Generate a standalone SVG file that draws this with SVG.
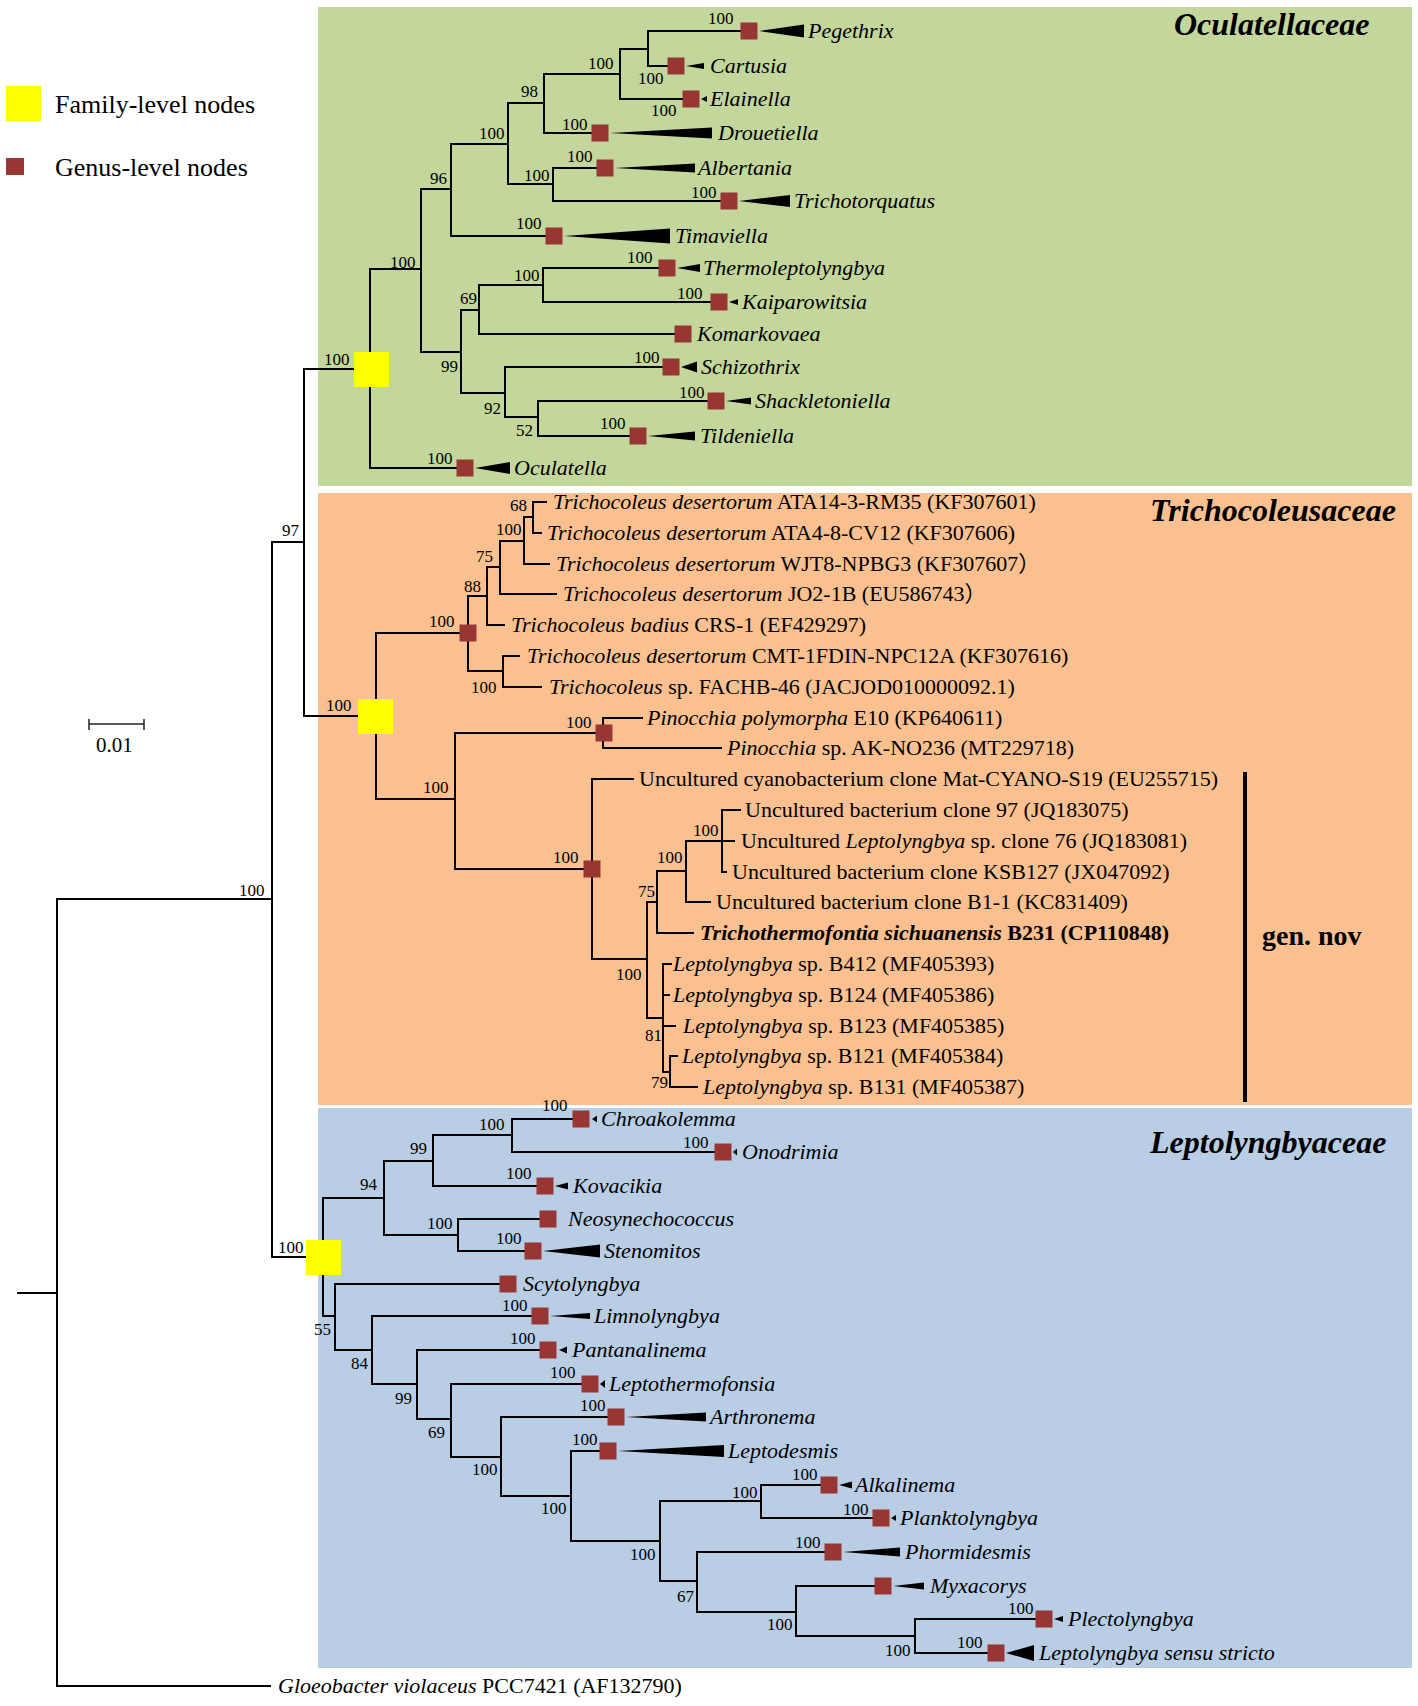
<svg xmlns="http://www.w3.org/2000/svg" width="1418" height="1706" viewBox="0 0 1418 1706">
<style>
.tx{font-family:"Liberation Serif","Times New Roman","Noto Sans CJK SC",serif;font-size:22px;fill:#000}
.it{font-style:italic}
.bs{font-family:"Liberation Serif","Times New Roman",serif;font-size:17px;fill:#000}
.sq{fill:#983634}
.fam{fill:#ffff00}
.tri{fill:#000}
.br{fill:none;stroke:#000;stroke-width:2;stroke-linecap:square}
.title{font-family:"Liberation Serif","Times New Roman",serif;font-size:32px;font-weight:bold;font-style:italic;fill:#000}
.leg{font-family:"Liberation Serif","Times New Roman",serif;font-size:26px;fill:#000}
</style>
<rect width="1418" height="1706" fill="#fff"/>
<g id="panels">
<rect x="318" y="7" width="1094" height="479" fill="#C3D69B"/>
<rect x="318" y="493" width="1094" height="612" fill="#FAC090"/>
<rect x="318" y="1108" width="1094" height="560" fill="#B9CDE5"/>
<text class="title" x="1174" y="35">Oculatellaceae</text>
<text class="title" x="1150" y="521">Trichocoleusaceae</text>
<text class="title" x="1150" y="1153">Leptolyngbyaceae</text>
</g>
<g id="legend">
<rect class="fam" x="6" y="86" width="35" height="35"/>
<text class="leg" x="55" y="113">Family-level nodes</text>
<rect class="sq" x="6" y="158" width="18" height="17"/>
<text class="leg" x="55" y="176">Genus-level nodes</text>
</g>
<g id="scale">
<path d="M89 724H144M89 719V730M144 719V730" fill="none" stroke="#222" stroke-width="1.5"/>
<text class="tx" x="96" y="752" style="font-size:21px">0.01</text>
</g>
<g id="connectors">
<path class="br" d="M18 1293H57M57 899V1686M57 899H272M57 1686H270M272 542V1257M272 542H304M272 1257H323M304 369V716M304 369H370M304 716H376
M370 269V468M370 269H421M370 468H465M421 189V352M421 189H451M421 352H461M451 144V236M451 144H508M451 236H554M508 103V184M508 103H544M508 184H553M544 74V133M544 74H620M544 133H600M620 49V99M620 49H648M620 99H691M648 31V66M648 31H749M648 66H676M553 168V201M553 168H605M553 201H729M461 310V393M461 310H479M461 393H505M479 285V334M479 285H543M479 334H683M543 268V302M543 268H667M543 302H719M505 367V417M505 367H671M505 417H538M538 401V436M538 401H716M538 436H638
M376 633V799M376 633H468M468 596V671M468 596H487M468 671H503M487 567V625M487 567H500M487 625H504M500 541V594M500 541H524M500 594H556M524 517V564M524 517H533M524 564H549M533 502V533M533 502H546M533 533H541M503 656V687M503 656H519M503 687H541M376 799H455M455 733V869M455 733H604M603 718V748M603 718H642M603 748H721M455 869H592M592 779V959M592 779H633M592 959H647M647 902V1018M647 902H657M657 871V933M657 871H686M686 841V902M686 841H722M722 810V872M722 810H740M722 841H734M722 872H726M686 902H710M657 933H693M647 1018H663M663 964V1072M663 964H671M663 995H669M663 1026H675M663 1072H670M670 1056V1087M670 1056H677M670 1087H697
M323 1198V1316M323 1198H384M384 1161V1235M384 1161H433M433 1135V1186M433 1135H512M512 1119V1152M512 1119H581M512 1152H723M433 1186H545M384 1235H458M458 1219V1251M458 1219H548M458 1251H533M323 1316H335M335 1284V1350M335 1284H508M335 1350H372M372 1316V1384M372 1316H540M372 1384H417M417 1350V1419M417 1350H548M417 1419H451M451 1384V1457M451 1384H590M451 1457H501M501 1417V1496M501 1417H616M501 1496H571M571 1451V1541M571 1451H608M571 1541H660M660 1501V1581M660 1501H761M660 1581H697M761 1485V1518M761 1485H829M761 1518H881M697 1552V1612M697 1552H833M697 1612H796M796 1586V1636M796 1586H883M796 1636H915M915 1619V1653M915 1619H1044M915 1653H996"/>
<rect x="1243" y="772" width="4" height="330" fill="#000"/>
<text class="tx" x="1262" y="945" style="font-size:28px;font-weight:bold">gen. nov</text>
</g>
<g id="support">
<text class="bs" x="239" y="896">100</text>
<text class="bs" x="282" y="536">97</text>
<text class="bs" x="324" y="365">100</text>
<text class="bs" x="390" y="268">100</text>
<text class="bs" x="430" y="184">96</text>
<text class="bs" x="479" y="139">100</text>
<text class="bs" x="521" y="97">98</text>
<text class="bs" x="588" y="69">100</text>
<text class="bs" x="708" y="24">100</text>
<text class="bs" x="638" y="84">100</text>
<text class="bs" x="651" y="116">100</text>
<text class="bs" x="562" y="130">100</text>
<text class="bs" x="524" y="181">100</text>
<text class="bs" x="567" y="162">100</text>
<text class="bs" x="691" y="198">100</text>
<text class="bs" x="516" y="229">100</text>
<text class="bs" x="460" y="304">69</text>
<text class="bs" x="514" y="281">100</text>
<text class="bs" x="627" y="263">100</text>
<text class="bs" x="677" y="299">100</text>
<text class="bs" x="441" y="372">99</text>
<text class="bs" x="634" y="363">100</text>
<text class="bs" x="484" y="414">92</text>
<text class="bs" x="679" y="398">100</text>
<text class="bs" x="516" y="436">52</text>
<text class="bs" x="600" y="429">100</text>
<text class="bs" x="427" y="464">100</text>
<text class="bs" x="510" y="511">68</text>
<text class="bs" x="496" y="535">100</text>
<text class="bs" x="476" y="562">75</text>
<text class="bs" x="464" y="592">88</text>
<text class="bs" x="429" y="627">100</text>
<text class="bs" x="471" y="693">100</text>
<text class="bs" x="326" y="711">100</text>
<text class="bs" x="566" y="728">100</text>
<text class="bs" x="423" y="793">100</text>
<text class="bs" x="553" y="863">100</text>
<text class="bs" x="616" y="980">100</text>
<text class="bs" x="638" y="897">75</text>
<text class="bs" x="657" y="863">100</text>
<text class="bs" x="693" y="836">100</text>
<text class="bs" x="645" y="1041">81</text>
<text class="bs" x="651" y="1088">79</text>
<text class="bs" x="278" y="1253">100</text>
<text class="bs" x="360" y="1190">94</text>
<text class="bs" x="410" y="1154">99</text>
<text class="bs" x="479" y="1130">100</text>
<text class="bs" x="542" y="1111">100</text>
<text class="bs" x="683" y="1148">100</text>
<text class="bs" x="506" y="1179">100</text>
<text class="bs" x="427" y="1229">100</text>
<text class="bs" x="496" y="1244">100</text>
<text class="bs" x="314" y="1335">55</text>
<text class="bs" x="502" y="1311">100</text>
<text class="bs" x="351" y="1369">84</text>
<text class="bs" x="510" y="1344">100</text>
<text class="bs" x="395" y="1404">99</text>
<text class="bs" x="550" y="1378">100</text>
<text class="bs" x="428" y="1438">69</text>
<text class="bs" x="580" y="1411">100</text>
<text class="bs" x="472" y="1475">100</text>
<text class="bs" x="572" y="1445">100</text>
<text class="bs" x="541" y="1514">100</text>
<text class="bs" x="630" y="1560">100</text>
<text class="bs" x="732" y="1498">100</text>
<text class="bs" x="792" y="1480">100</text>
<text class="bs" x="843" y="1515">100</text>
<text class="bs" x="677" y="1602">67</text>
<text class="bs" x="795" y="1548">100</text>
<text class="bs" x="767" y="1630">100</text>
<text class="bs" x="1008" y="1614">100</text>
<text class="bs" x="885" y="1656">100</text>
<text class="bs" x="957" y="1648">100</text>
</g>
<g id="family-nodes">
<rect id="fam-ocul" class="fam" x="354" y="352" width="35" height="35"/>
<rect id="fam-tric" class="fam" x="358" y="699" width="35" height="35"/>
<rect id="fam-lept" class="fam" x="306" y="1240" width="35" height="35"/>
</g>
<g id="oculatellaceae">
<g id="n-pegethrix"><rect class="sq" x="740.5" y="22.5" width="17" height="17"/><polygon class="tri" points="759,31 804,24.5 804,37.5"/><text class="tx it" x="808" y="38">Pegethrix</text></g>
<g id="n-cartusia"><rect class="sq" x="667.5" y="57.5" width="17" height="17"/><polygon class="tri" points="686,66 704,63 704,69"/><text class="tx it" x="710" y="73">Cartusia</text></g>
<g id="n-elainella"><rect class="sq" x="682.5" y="90.5" width="17" height="17"/><polygon class="tri" points="701,99 707,96 707,102"/><text class="tx it" x="710" y="106">Elainella</text></g>
<g id="n-drouetiella"><rect class="sq" x="591.5" y="124.5" width="17" height="17"/><polygon class="tri" points="610,133 712,127.5 712,138.5"/><text class="tx it" x="718" y="140">Drouetiella</text></g>
<g id="n-albertania"><rect class="sq" x="596.5" y="159.5" width="17" height="17"/><polygon class="tri" points="615,168 695,163.5 695,172.5"/><text class="tx it" x="698" y="175">Albertania</text></g>
<g id="n-trichotorquatus"><rect class="sq" x="720.5" y="192.5" width="17" height="17"/><polygon class="tri" points="739,201 790,195 790,207"/><text class="tx it" x="794" y="208">Trichotorquatus</text></g>
<g id="n-timaviella"><rect class="sq" x="545.5" y="227.5" width="17" height="17"/><polygon class="tri" points="564,236 670,228.5 670,243.5"/><text class="tx it" x="675" y="243">Timaviella</text></g>
<g id="n-thermoleptolyngbya"><rect class="sq" x="658.5" y="259.5" width="17" height="17"/><polygon class="tri" points="677,268 700,264 700,272"/><text class="tx it" x="703" y="275">Thermoleptolyngbya</text></g>
<g id="n-kaiparowitsia"><rect class="sq" x="710.5" y="293.5" width="17" height="17"/><polygon class="tri" points="729,302 738,299 738,305"/><text class="tx it" x="742" y="309">Kaiparowitsia</text></g>
<g id="n-komarkovaea"><rect class="sq" x="674.5" y="325.5" width="17" height="17"/><text class="tx it" x="697" y="341">Komarkovaea</text></g>
<g id="n-schizothrix"><rect class="sq" x="662.5" y="358.5" width="17" height="17"/><polygon class="tri" points="681,367 697,361.5 697,372.5"/><text class="tx it" x="701" y="374">Schizothrix</text></g>
<g id="n-shackletoniella"><rect class="sq" x="707.5" y="392.5" width="17" height="17"/><polygon class="tri" points="726,401 751,397.5 751,404.5"/><text class="tx it" x="755" y="408">Shackletoniella</text></g>
<g id="n-tildeniella"><rect class="sq" x="629.5" y="427.5" width="17" height="17"/><polygon class="tri" points="648,436 695,431.5 695,440.5"/><text class="tx it" x="700" y="443">Tildeniella</text></g>
<g id="n-oculatella"><rect class="sq" x="456.5" y="459.5" width="17" height="17"/><polygon class="tri" points="475,468 510,462 510,474"/><text class="tx it" x="514" y="475">Oculatella</text></g>
</g>
<g id="trichocoleusaceae">
<rect id="g-trichocoleus" class="sq" x="459.5" y="624.5" width="17" height="17"/>
<rect id="g-pinocchia" class="sq" x="595.5" y="724.5" width="17" height="17"/>
<rect id="g-gennov" class="sq" x="583.5" y="860.5" width="17" height="17"/>
<text id="t1" class="tx" x="553" y="509"><tspan class="it">Trichocoleus desertorum</tspan> ATA14-3-RM35 (KF307601)</text>
<text id="t2" class="tx" x="547" y="540"><tspan class="it">Trichocoleus desertorum</tspan> ATA4-8-CV12 (KF307606)</text>
<text id="t3" class="tx" x="556" y="571"><tspan class="it">Trichocoleus desertorum</tspan> WJT8-NPBG3 (KF307607）</text>
<text id="t4" class="tx" x="563" y="601"><tspan class="it">Trichocoleus desertorum</tspan> JO2-1B (EU586743）</text>
<text id="t5" class="tx" x="511" y="632"><tspan class="it">Trichocoleus badius</tspan> CRS-1 (EF429297)</text>
<text id="t6" class="tx" x="527" y="663"><tspan class="it">Trichocoleus desertorum</tspan> CMT-1FDIN-NPC12A (KF307616)</text>
<text id="t7" class="tx" x="549" y="694"><tspan class="it">Trichocoleus</tspan> sp. FACHB-46 (JACJOD010000092.1)</text>
<text id="t8" class="tx" x="647" y="725"><tspan class="it">Pinocchia polymorpha</tspan> E10 (KP640611)</text>
<text id="t9" class="tx" x="727" y="755"><tspan class="it">Pinocchia</tspan> sp. AK-NO236 (MT229718)</text>
<text id="t10" class="tx" x="639" y="786">Uncultured cyanobacterium clone Mat-CYANO-S19 (EU255715)</text>
<text id="t11" class="tx" x="745" y="817">Uncultured bacterium clone 97 (JQ183075)</text>
<text id="t12" class="tx" x="741" y="848">Uncultured <tspan class="it">Leptolyngbya</tspan> sp. clone 76 (JQ183081)</text>
<text id="t13" class="tx" x="732" y="879">Uncultured bacterium clone KSB127 (JX047092)</text>
<text id="t14" class="tx" x="716" y="909">Uncultured bacterium clone B1-1 (KC831409)</text>
<text id="t15" class="tx" x="700" y="940" style="font-weight:bold"><tspan class="it">Trichothermofontia sichuanensis</tspan> B231 (CP110848)</text>
<text id="t16" class="tx" x="673" y="971"><tspan class="it">Leptolyngbya</tspan> sp. B412 (MF405393)</text>
<text id="t17" class="tx" x="673" y="1002"><tspan class="it">Leptolyngbya</tspan> sp. B124 (MF405386)</text>
<text id="t18" class="tx" x="683" y="1033"><tspan class="it">Leptolyngbya</tspan> sp. B123 (MF405385)</text>
<text id="t19" class="tx" x="682" y="1063"><tspan class="it">Leptolyngbya</tspan> sp. B121 (MF405384)</text>
<text id="t20" class="tx" x="703" y="1094"><tspan class="it">Leptolyngbya</tspan> sp. B131 (MF405387)</text>
</g>
<g id="leptolyngbyaceae">
<g id="n-chroakolemma"><rect class="sq" x="572.5" y="1110.5" width="17" height="17"/><polygon class="tri" points="592,1119 597,1115.5 597,1122.5"/><text class="tx it" x="601" y="1126">Chroakolemma</text></g>
<g id="n-onodrimia"><rect class="sq" x="714.5" y="1143.5" width="17" height="17"/><polygon class="tri" points="733,1152 737,1148.5 737,1155.5"/><text class="tx it" x="742" y="1159">Onodrimia</text></g>
<g id="n-kovacikia"><rect class="sq" x="536.5" y="1177.5" width="17" height="17"/><polygon class="tri" points="555,1186 568,1182.5 568,1189.5"/><text class="tx it" x="573" y="1193">Kovacikia</text></g>
<g id="n-neosynechococcus"><rect class="sq" x="539.5" y="1210.5" width="17" height="17"/><text class="tx it" x="568" y="1226">Neosynechococcus</text></g>
<g id="n-stenomitos"><rect class="sq" x="524.5" y="1242.5" width="17" height="17"/><polygon class="tri" points="543,1251 600,1244.5 600,1257.5"/><text class="tx it" x="604" y="1258">Stenomitos</text></g>
<g id="n-scytolyngbya"><rect class="sq" x="499.5" y="1275.5" width="17" height="17"/><text class="tx it" x="523" y="1291">Scytolyngbya</text></g>
<g id="n-limnolyngbya"><rect class="sq" x="531.5" y="1307.5" width="17" height="17"/><polygon class="tri" points="550,1316 590,1313 590,1319"/><text class="tx it" x="594" y="1323">Limnolyngbya</text></g>
<g id="n-pantanalinema"><rect class="sq" x="539.5" y="1341.5" width="17" height="17"/><polygon class="tri" points="559,1350 567,1346.5 567,1353.5"/><text class="tx it" x="572" y="1357">Pantanalinema</text></g>
<g id="n-leptothermofonsia"><rect class="sq" x="581.5" y="1375.5" width="17" height="17"/><polygon class="tri" points="600,1384 605,1380 605,1388"/><text class="tx it" x="609" y="1391">Leptothermofonsia</text></g>
<g id="n-arthronema"><rect class="sq" x="607.5" y="1408.5" width="17" height="17"/><polygon class="tri" points="626,1417 706,1412.5 706,1421.5"/><text class="tx it" x="710" y="1424">Arthronema</text></g>
<g id="n-leptodesmis"><rect class="sq" x="599.5" y="1442.5" width="17" height="17"/><polygon class="tri" points="618,1451 724,1445 724,1457"/><text class="tx it" x="728" y="1458">Leptodesmis</text></g>
<g id="n-alkalinema"><rect class="sq" x="820.5" y="1476.5" width="17" height="17"/><polygon class="tri" points="839,1485 852,1481.5 852,1488.5"/><text class="tx it" x="855" y="1492">Alkalinema</text></g>
<g id="n-planktolyngbya"><rect class="sq" x="872.5" y="1509.5" width="17" height="17"/><polygon class="tri" points="891,1518 896,1515 896,1521"/><text class="tx it" x="900" y="1525">Planktolyngbya</text></g>
<g id="n-phormidesmis"><rect class="sq" x="824.5" y="1543.5" width="17" height="17"/><polygon class="tri" points="843,1552 900,1547.5 900,1556.5"/><text class="tx it" x="905" y="1559">Phormidesmis</text></g>
<g id="n-myxacorys"><rect class="sq" x="874.5" y="1577.5" width="17" height="17"/><polygon class="tri" points="893,1586 924,1582.5 924,1589.5"/><text class="tx it" x="930" y="1593">Myxacorys</text></g>
<g id="n-plectolyngbya"><rect class="sq" x="1035.5" y="1610.5" width="17" height="17"/><polygon class="tri" points="1054,1619 1063,1616 1063,1622"/><text class="tx it" x="1068" y="1626">Plectolyngbya</text></g>
<g id="n-leptolyngbya-ss"><rect class="sq" x="987.5" y="1644.5" width="17" height="17"/><polygon class="tri" points="1006,1653 1034,1645 1034,1661"/><text class="tx it" x="1039" y="1660">Leptolyngbya sensu stricto</text></g>
</g>
<g id="outgroup">
<text class="tx" x="278" y="1693"><tspan class="it">Gloeobacter violaceus</tspan> PCC7421 (AF132790)</text>
</g>
</svg>
